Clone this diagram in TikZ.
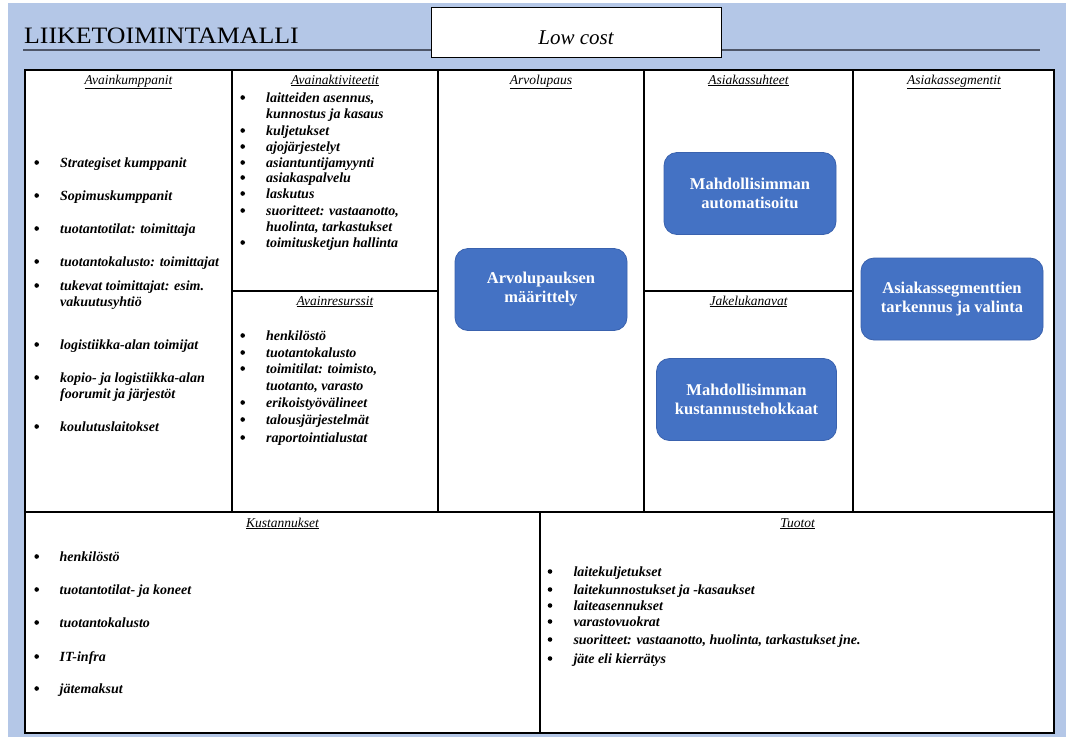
\documentclass[tikz,border=0pt]{standalone}
\usepackage{fontspec}
\setmainfont{Liberation Serif}
\newfontfamily\titlefont{Liberation Serif}[FakeStretch=1.1]
\definecolor{bgblue}{HTML}{B4C7E7}
\definecolor{boxblue}{HTML}{4472C4}
\definecolor{boxedge}{HTML}{3A62AE}
\definecolor{rulegrey}{HTML}{4E5668}
\tikzset{
  hdr/.style={anchor=base, inner sep=0pt, font=\fontsize{13.5}{16}\selectfont\itshape},
  item/.style={anchor=base west, inner sep=0pt, font=\fontsize{14}{16}\selectfont\bfseries\itshape},
  bul/.style={circle, fill=black, inner sep=0pt, minimum size=4.6pt},
  bluebox/.style={draw=boxedge, fill=boxblue, rounded corners=13pt, text=white, align=center,
    line width=0.8pt, inner sep=2pt, font=\fontsize{16.5}{19}\selectfont\bfseries},
  gridline/.style={draw=black, line width=1.7pt},
}
\begin{document}
\begin{tikzpicture}[x=1pt, y=-1pt]
\useasboundingbox (0,0) rectangle (1066,737);
\fill[white] (0,0) rectangle (1066,737);
\fill[bgblue] (8,3) rectangle (1066,737);
% title
\node[anchor=base west, inner sep=0pt, font=\titlefont\fontsize{23.5}{26}\selectfont] (title) at (24,43) {LIIKETOIMINTAMALLI};
\coordinate (rl) at (23,50);
\coordinate (rr) at (1040,50);
\draw[rulegrey, line width=2pt] (rl) -- (rr);
\node[draw=black, fill=white, line width=0.6pt, minimum width=290pt, minimum height=50pt, inner sep=0pt] (lowbox) at (576,32) {};
\node[anchor=base, inner sep=0pt, font=\fontsize{21}{24}\selectfont\itshape] (lowcost) at (576,44) {Low cost};
% grid
\fill[white] (25,70) rectangle (1054,733);
\draw[gridline] (25,70) rectangle (1054,733);
\draw[gridline] (232,70) -- (232,512);
\draw[gridline] (438,70) -- (438,512);
\draw[gridline] (644,70) -- (644,512);
\draw[gridline] (853,70) -- (853,512);
\draw[gridline] (232,291) -- (438,291);
\draw[gridline] (644,291) -- (853,291);
\draw[gridline] (25,512) -- (1054,512);
\draw[gridline] (540,512) -- (540,733);
% headers
\node[hdr] (h1) at (128.5,84) {\underline{Avainkumppanit}};
\node[hdr] (h2) at (335,84) {\underline{Avainaktiviteetit}};
\node[hdr] (h3) at (335,305) {\underline{Avainresurssit}};
\node[hdr] (h4) at (541,84) {\underline{Arvolupaus}};
\node[hdr] (h5) at (748.5,84) {\underline{Asiakassuhteet}};
\node[hdr] (h6) at (748.5,305) {\underline{Jakelukanavat}};
\node[hdr] (h7) at (954,84) {\underline{Asiakassegmentit}};
\node[hdr] (h8) at (282.5,527) {\underline{Kustannukset}};
\node[hdr] (h9) at (797.5,527) {\underline{Tuotot}};
% Avainkumppanit
\foreach \yy/\tt [count=\i] in {167/Strategiset kumppanit, 200/Sopimuskumppanit, 233/tuotantotilat: toimittaja, 266/tuotantokalusto: toimittajat, 290/tukevat toimittajat: esim., 349/logistiikka-alan toimijat, 382/kopio- ja logistiikka-alan, 431/koulutuslaitokset}{
  \node[bul] (kb\i) at (36.7,\yy-4.5) {};
  \node[item] (kt\i) at (60,\yy) {\tt};
}
\node[item] (kt5b) at (60,306) {vakuutusyhtiö};
\node[item] (kt7b) at (60,398) {foorumit ja järjestöt};
% Avainaktiviteetit
\foreach \yy/\tt [count=\i] in {102/{laitteiden asennus,}, 135/kuljetukset, 151/ajojärjestelyt, 167/asiantuntijamyynti, 182/asiakaspalvelu, 198/laskutus, 215/{suoritteet: vastaanotto,}, 247/toimitusketjun hallinta}{
  \node[bul] (ab\i) at (242.7,\yy-4.5) {};
  \node[item] (at\i) at (266,\yy) {\tt};
}
\node[item] (at1b) at (266,118) {kunnostus ja kasaus};
\node[item] (at7b) at (266,231) {huolinta, tarkastukset};
% Avainresurssit
\foreach \yy/\tt [count=\i] in {340/henkilöstö, 357/tuotantokalusto, 373/{toimitilat: toimisto,}, 407/erikoistyövälineet, 424/talousjärjestelmät, 442/raportointialustat}{
  \node[bul] (rb\i) at (242.7,\yy-4.5) {};
  \node[item] (rt\i) at (266,\yy) {\tt};
}
\node[item] (rt3b) at (266,390) {tuotanto, varasto};
% Kustannukset
\foreach \yy/\tt [count=\i] in {561/henkilöstö, 594/tuotantotilat- ja koneet, 627/tuotantokalusto, 661/IT-infra, 693/jätemaksut}{
  \node[bul] (cb\i) at (36.7,\yy-4.5) {};
  \node[item] (ct\i) at (59.5,\yy) {\tt};
}
% Tuotot
\foreach \yy/\tt [count=\i] in {576/laitekuljetukset, 594/laitekunnostukset ja -kasaukset, 610/laiteasennukset, 626/varastovuokrat, 644/{suoritteet: vastaanotto, huolinta, tarkastukset jne.}, 663/jäte eli kierrätys}{
  \node[bul] (tb\i) at (550,\yy-4.5) {};
  \node[item] (tt\i) at (573.3,\yy) {\tt};
}
% blue boxes
\node[bluebox, minimum width=172pt, minimum height=82pt] (arvo) at (541,289.5) {Arvolupauksen\\määrittely};
\node[bluebox, minimum width=172pt, minimum height=82pt] (auto) at (750,193.5) {Mahdollisimman\\automatisoitu};
\node[bluebox, minimum width=180pt, minimum height=82pt] (kust) at (746.5,399.5) {Mahdollisimman\\kustannustehokkaat};
\node[bluebox, minimum width=182pt, minimum height=82pt] (segm) at (952,299) {Asiakassegmenttien\\tarkennus ja valinta};
\end{tikzpicture}
\end{document}
